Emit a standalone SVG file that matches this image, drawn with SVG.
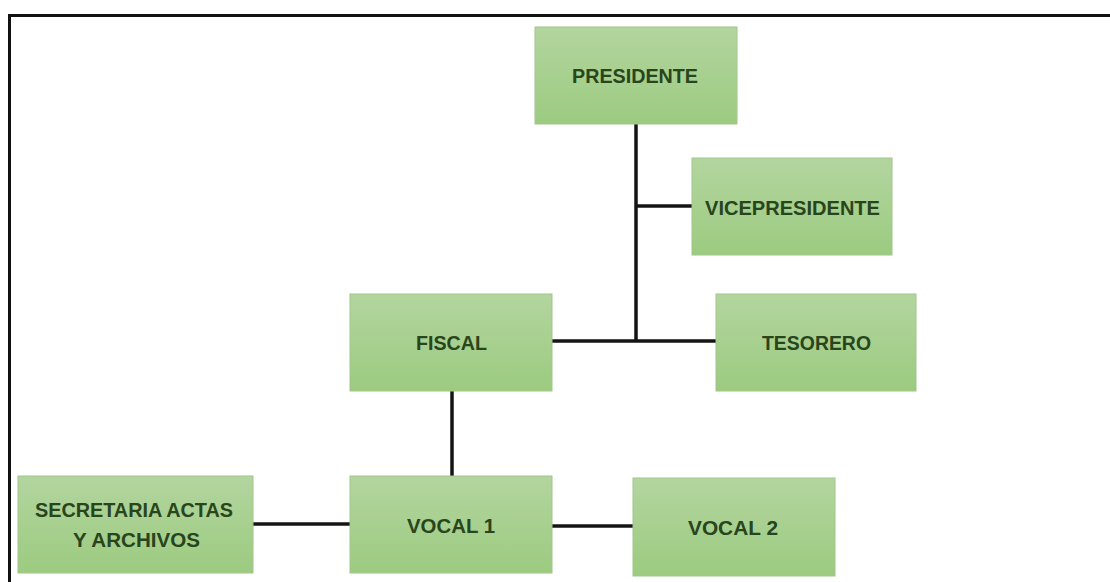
<svg xmlns="http://www.w3.org/2000/svg" width="1110" height="582" viewBox="0 0 1110 582">
  <defs>
    <linearGradient id="g" x1="0" y1="0" x2="0" y2="1">
      <stop offset="0" stop-color="#b3d59f"/>
      <stop offset="1" stop-color="#9ccb80"/>
    </linearGradient>
    <style>
      .box { fill: url(#g); stroke: #a2c58c; stroke-width: 1; }
      .lbl { font-family: "Liberation Sans", Arial, sans-serif; font-size: 19.5px; font-weight: bold; fill: #28451c; text-anchor: middle; }
      .conn { stroke: #141414; stroke-width: 3.5; fill: none; stroke-linecap: butt; }
      .frame { stroke: #111111; stroke-width: 3; fill: none; }
    </style>
  </defs>
  <rect x="0" y="0" width="1110" height="582" fill="#ffffff"/>
  <path class="frame" d="M9.5,582 V15.5 H1110"/>

  <g id="connectors">
    <path class="conn" d="M636,124 V341"/>
    <path class="conn" d="M636,206 H692"/>
    <path class="conn" d="M552,341 H716"/>
    <path class="conn" d="M452,391 V476"/>
    <path class="conn" d="M253,524 H350"/>
    <path class="conn" d="M552,526 H633"/>
  </g>

  <g id="presidente">
    <rect class="box" x="535" y="27" width="202" height="97"/>
    <text class="lbl" x="635" y="83" textLength="126" lengthAdjust="spacingAndGlyphs">PRESIDENTE</text>
  </g>
  <g id="vicepresidente">
    <rect class="box" x="692" y="158" width="200" height="97"/>
    <text class="lbl" x="792.5" y="215" textLength="175" lengthAdjust="spacingAndGlyphs">VICEPRESIDENTE</text>
  </g>
  <g id="fiscal">
    <rect class="box" x="350" y="294" width="202" height="97"/>
    <text class="lbl" x="451.5" y="350" textLength="71" lengthAdjust="spacingAndGlyphs">FISCAL</text>
  </g>
  <g id="tesorero">
    <rect class="box" x="716" y="294" width="200" height="97"/>
    <text class="lbl" x="816.5" y="350" textLength="109" lengthAdjust="spacingAndGlyphs">TESORERO</text>
  </g>
  <g id="secretaria">
    <rect class="box" x="18" y="476" width="235" height="97"/>
    <text class="lbl" x="134" y="517" textLength="198" lengthAdjust="spacingAndGlyphs">SECRETARIA ACTAS</text>
    <text class="lbl" x="136.5" y="547" textLength="127" lengthAdjust="spacingAndGlyphs">Y ARCHIVOS</text>
  </g>
  <g id="vocal1">
    <rect class="box" x="350" y="476" width="202" height="97"/>
    <text class="lbl" x="451" y="533" textLength="88" lengthAdjust="spacingAndGlyphs">VOCAL 1</text>
  </g>
  <g id="vocal2">
    <rect class="box" x="633" y="478" width="202" height="98"/>
    <text class="lbl" x="733" y="535" textLength="90" lengthAdjust="spacingAndGlyphs">VOCAL 2</text>
  </g>
</svg>
